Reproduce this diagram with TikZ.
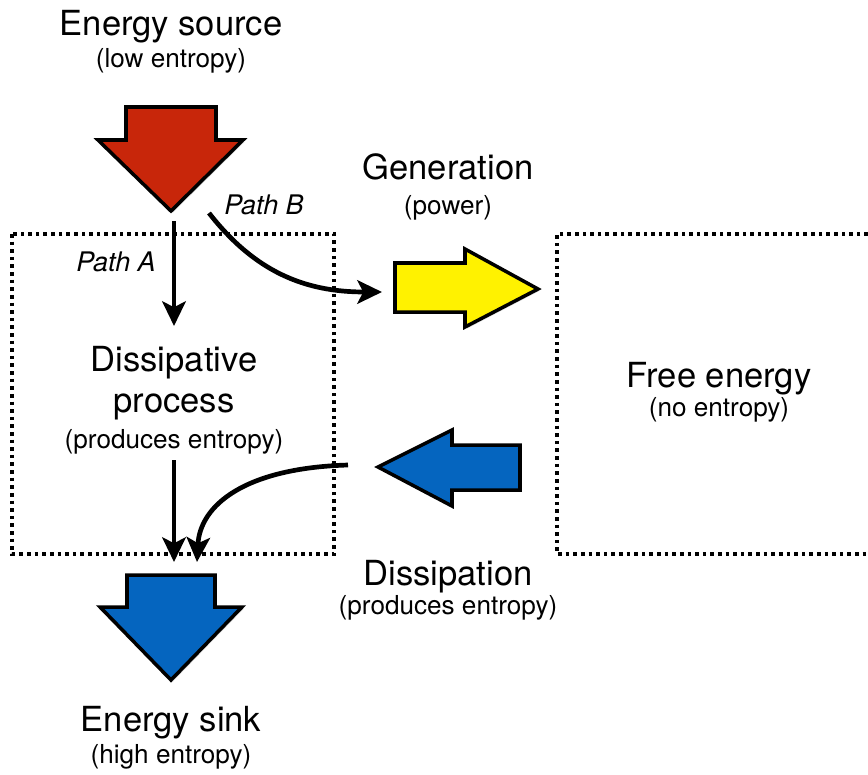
\documentclass[tikz,border=0pt]{standalone}
\usepackage{fontspec}
\setmainfont{TeX Gyre Heros}
\usetikzlibrary{arrows.meta}
\usetikzlibrary{shadows}

\definecolor{srcred}{HTML}{C8260A}
\definecolor{genyellow}{HTML}{FFF200}
\definecolor{sinkblue}{HTML}{0565BF}

\tikzset{
    bigtext/.style={font=\fontsize{29.5}{34}\selectfont, inner sep=0pt, anchor=base},
    subtext/.style={font=\fontsize{22.3}{26}\selectfont, inner sep=0pt, anchor=base},
    pathlabel/.style={font=\fontsize{23}{27}\selectfont\itshape, inner sep=0pt, anchor=base},
    dotbox/.style={line width=3.1pt, dash pattern=on 3.1pt off 3.4pt},
    flow/.style={line width=4pt, -{Stealth[length=21pt,width=20pt,inset=5pt]}},
    blockarrow/.style={draw=black, line width=3pt, line join=miter,
        drop shadow={opacity=0.25, shadow xshift=1.5pt, shadow yshift=-1.5pt}}
}

\begin{document}
\begin{tikzpicture}[x=0.03cm, y=-0.03cm]
    \useasboundingbox (0,0) rectangle (868,774);

    % dotted boxes
    \draw[dotbox] (12,234) rectangle (334,554);
    \draw[dotbox] (868,234) -- (557,234) -- (557,554) -- (868,554);

    % block arrows
    \draw[blockarrow, fill=srcred] (126,107) -- (216,107) -- (216,140) -- (243,140) -- (171,211) -- (98,140) -- (126,140) -- cycle;
    \draw[blockarrow, fill=genyellow] (395,263) -- (465,263) -- (465,249) -- (538,289) -- (465,327) -- (465,312) -- (395,312) -- cycle;
    \draw[blockarrow, fill=sinkblue] (520,445) -- (452,445) -- (452,430) -- (378,467) -- (452,506) -- (452,490) -- (520,490) -- cycle;
    \draw[blockarrow, fill=sinkblue] (127,575) -- (215,575) -- (215,607) -- (242,607) -- (171,680) -- (100,607) -- (127,607) -- cycle;

    % texts
    \node[bigtext] (source) at (171,35) {Energy source};
    \node[subtext] (sourcesub) at (171,67) {(low entropy)};
    \node[bigtext] (gen) at (448,179) {Generation};
    \node[subtext] (gensub) at (448,214) {(power)};
    \node[bigtext] (dissA) at (174,371) {Dissipative};
    \node[bigtext] (dissB) at (174,412) {process};
    \node[subtext] (disssub) at (174,448) {(produces entropy)};
    \node[bigtext] (free) at (719,387) {Free energy};
    \node[subtext] (freesub) at (719,416) {(no entropy)};
    \node[bigtext] (dissip) at (448,585) {Dissipation};
    \node[subtext] (dissipsub) at (448,614) {(produces entropy)};
    \node[bigtext] (sink) at (171,731) {Energy sink};
    \node[subtext] (sinksub) at (171,763) {(high entropy)};
    \node[pathlabel] (pathA) at (116,271) {Path A};
    \node[pathlabel] (pathB) at (264,214) {Path B};

    % flows
    \coordinate (aStart) at (174,221);
    \coordinate (aEnd) at (174,326);
    \coordinate (bStart) at (209,213);
    \coordinate (bEnd) at (382,292);
    \coordinate (cStart) at (174,460);
    \coordinate (cEnd) at (174,562);
    \coordinate (dStart) at (348,465);
    \coordinate (dEnd) at (197,562);
    \draw[flow] (aStart) -- (aEnd);
    \draw[flow] (bStart) .. controls (255,272) and (305,292) .. (bEnd);
    \draw[flow] (cStart) -- (cEnd);
    \draw[flow] (dStart) .. controls (245,468) and (200,505) .. (dEnd);
\end{tikzpicture}
\end{document}
